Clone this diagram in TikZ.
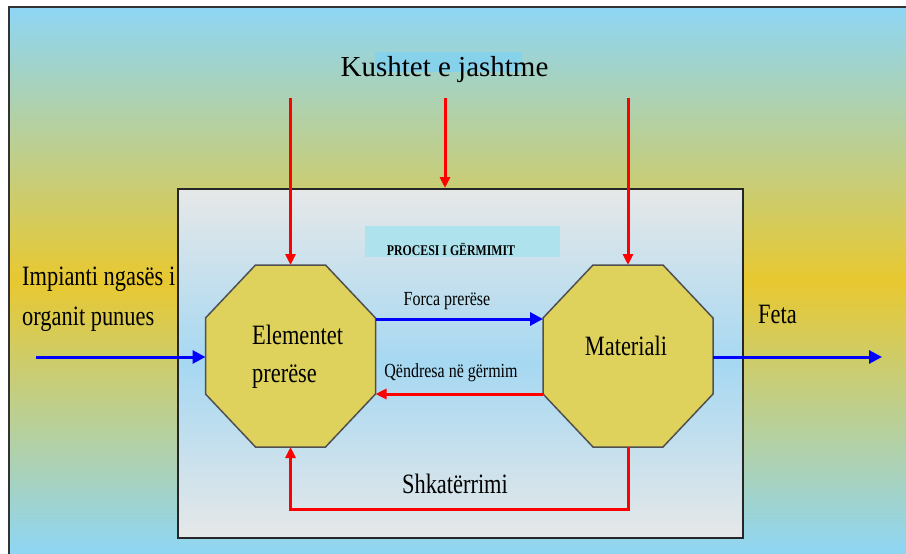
\documentclass[tikz,border=0pt]{standalone}
\usepackage{fontspec}
\setmainfont{Liberation Serif}
\newfontfamily\fB[FakeStretch=0.8]{Liberation Serif}
\usetikzlibrary{arrows.meta}
\definecolor{bgblue}{HTML}{8ED6F5}
\definecolor{bgyellow}{HTML}{E8C830}
\definecolor{boxgray}{HTML}{E6E8E8}
\definecolor{boxblue}{HTML}{A6D8F2}
\definecolor{octfill}{HTML}{DED25C}
\definecolor{octline}{HTML}{505050}
\definecolor{patchcyan}{HTML}{86D2EA}
\definecolor{patchpale}{HTML}{AEE2EC}
\tikzset{
  anch/.style={inner sep=0pt, outer sep=0pt, minimum width=170pt, minimum height=182pt},
  octa/.style={draw=octline, fill=octfill, line width=1.5pt, line join=miter},
  redarrow/.style={draw=red, line width=3pt, -{Triangle[length=11pt,width=10pt]}},
  bluearrow/.style={draw=blue, line width=3pt, -{Triangle[length=13pt,width=13pt]}},
  txt/.style={inner sep=0pt, text=black},
}
\newcommand{\octagon}[1]{%
  \draw[octa, shift={(#1)}] (-85,-38) -- (-35,-91) -- (35,-91) -- (85,-38)
    -- (85,38) -- (35,91) -- (-35,91) -- (-85,38) -- cycle;}
\begin{document}
\begin{tikzpicture}[x=1pt,y=-1pt]
\useasboundingbox (0,0) rectangle (906,554);
% background
\shade[top color=bgblue, bottom color=bgblue, middle color=bgyellow] (9,7) rectangle (906,554);
\draw[line width=2pt, black!80] (9,554) -- (9,7) -- (906,7);
% process box
\node[draw=black!85, line width=2pt, top color=boxgray, bottom color=boxgray, middle color=boxblue,
      minimum width=565pt, minimum height=349pt, inner sep=0pt] (box) at (460.5,363.5) {};
% patches
\fill[patchcyan] (375,52) rectangle (522,72);
\fill[patchpale] (365,226) rectangle (560,257);
% octagons
\node[anch] (el) at (290.5,356) {};
\node[anch] (mat) at (628,356) {};
\octagon{el.center}
\octagon{mat.center}
% external conditions arrows
\coordinate (k1) at (290.5,98);
\coordinate (k2) at (445,98);
\coordinate (k3) at (628,98);
\draw[redarrow] (k1) -- (el.north);
\draw[redarrow] (k2) -- (k2 |- box.north);
\draw[redarrow] (k3) -- (mat.north);
% internal arrows
\draw[bluearrow] ([yshift=37pt]el.east) -- ([yshift=37pt]mat.west);
\draw[redarrow] ([yshift=-38pt]mat.west) -- ([yshift=-38pt]el.east);
\draw[redarrow] (mat.south) -- ++(0,62) -| (el.south);
% input / output
\coordinate (in) at (36,357);
\coordinate (out) at (882,357);
\draw[bluearrow] (in) -- (in -| el.west);
\draw[bluearrow] (out -| mat.east) -- (out);
% texts
\node[txt, anchor=base] (t1) at (444.5,76) {\fontsize{29}{33}\selectfont Kushtet e jashtme};
\node[txt, anchor=base] (t2) at (451,255) {\fB\bfseries\fontsize{14.8}{16}\selectfont PROCESI I GËRMIMIT};
\node[txt, anchor=base] (t3) at (447,305) {\fB\fontsize{20}{22}\selectfont Forca prerëse};
\node[txt, anchor=base] (t4) at (451,377) {\fB\fontsize{20}{22}\selectfont Qëndresa në gërmim};
\node[txt, anchor=base west] (t5) at (252,344) {\fB\fontsize{28}{32}\selectfont Elementet};
\node[txt, anchor=base west] (t6) at (252,382) {\fB\fontsize{28}{32}\selectfont prerëse};
\node[txt, anchor=base] (t7) at (626,355) {\fB\fontsize{28}{32}\selectfont Materiali};
\node[txt, anchor=base west] (t8) at (22,285) {\fB\fontsize{28}{32}\selectfont Impianti ngasës i};
\node[txt, anchor=base west] (t9) at (22,325) {\fB\fontsize{28}{32}\selectfont organit punues};
\node[txt, anchor=base west] (t10) at (758,323) {\fB\fontsize{28}{32}\selectfont Feta};
\node[txt, anchor=base] (t11) at (455,493) {\fB\fontsize{28}{32}\selectfont Shkatërrimi};
\end{tikzpicture}
\end{document}
